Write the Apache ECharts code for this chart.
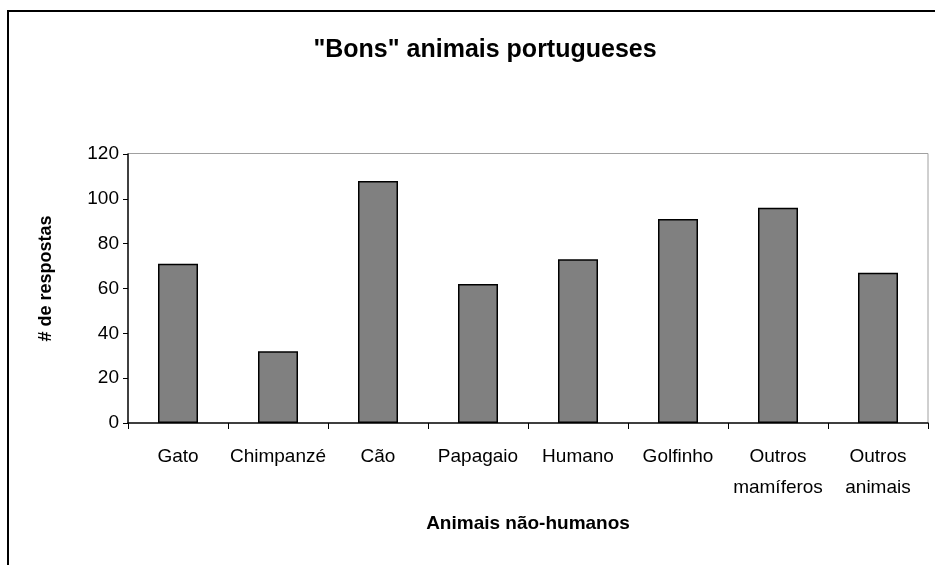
<!DOCTYPE html>
<html>
<head>
<meta charset="utf-8">
<script src="https://cdn.jsdelivr.net/npm/echarts@6/dist/echarts.min.js"></script>
<style>
  html, body { margin: 0; padding: 0; background: #fff; }
  #chart { width: 935px; height: 565px; }
</style>
</head>
<body>
<div id="chart"></div>
<script>
// categorias e respostas
var categories = ["Gato", "Chimpanzé", "Cão", "Papagaio", "Humano", "Golfinho", "Outros\nmamíferos", "Outros\nanimais"];
var respostas = [71, 32, 108, 62, 73, 91, 96, 67];
var yTicks = [0, 20, 40, 60, 80, 100, 120];

var font = "Liberation Sans, Arial, sans-serif";
var chart = echarts.init(document.getElementById("chart"));

var option = {
  backgroundColor: "#fff",
  animation: false,
  title: {
    text: '"Bons" animais portugueses',
    left: 480,
    textAlign: "center",
    top: 33,
    textStyle: { fontFamily: font, fontSize: 25, fontWeight: "bold", color: "#000" }
  },
  // moldura exterior
  graphic: [
    {
      type: "rect",
      shape: { x: 8, y: 11, width: 1000, height: 700 },
      style: { fill: "none", stroke: "#000", lineWidth: 2 }
    },
    {
      // topo e direita da area do grafico em cinza
      type: "polyline",
      shape: { points: [[128, 153.5], [928, 153.5], [928, 423]] },
      style: { fill: "none", stroke: "#a0a0a0", lineWidth: 1 }
    }
  ],
  grid: { left: 128, top: 154, width: 800, height: 269, containLabel: false },
  xAxis: {
    type: "category",
    data: categories,
    name: "Animais não-humanos",
    nameLocation: "middle",
    nameGap: 91,
    nameTextStyle: { fontFamily: font, fontSize: 19, fontWeight: "bold", color: "#000" },
    axisLine: { lineStyle: { color: "#000", width: 1.5 } },
    axisTick: { show: true, alignWithLabel: false, length: 6, lineStyle: { color: "#000" } },
    axisLabel: { fontFamily: font, fontSize: 19, color: "#000", margin: 18, lineHeight: 31, interval: 0 },
    splitLine: { show: false }
  },
  yAxis: {
    type: "value",
    min: yTicks[0],
    max: yTicks[yTicks.length - 1],
    interval: 20,
    name: "# de respostas",
    nameLocation: "middle",
    nameGap: 73,
    nameRotate: 90,
    nameTextStyle: { fontFamily: font, fontSize: 18, fontWeight: "bold", color: "#000", padding: [0, 0, 0, 20] },
    axisLine: { show: true, lineStyle: { color: "#000", width: 1.5 } },
    axisTick: { show: true, length: 5, lineStyle: { color: "#000" } },
    axisLabel: { fontFamily: font, fontSize: 19, color: "#000", margin: 9 },
    splitLine: { show: false }
  },
  series: [
    {
      name: "# de respostas",
      type: "bar",
      data: respostas,
      barWidth: "40%",
      itemStyle: { color: "#808080", borderColor: "#000", borderWidth: 1.5 }
    }
  ]
};
chart.setOption(option);
</script>
</body>
</html>
